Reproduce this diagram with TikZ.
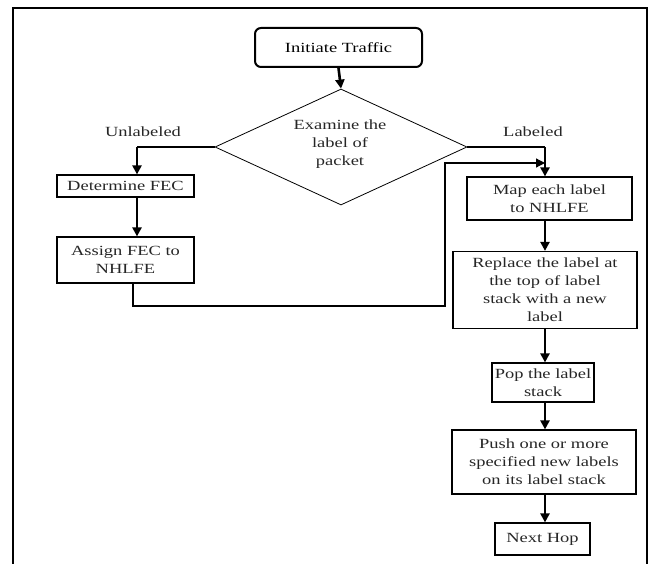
\documentclass[tikz,border=0pt]{standalone}
\usepackage{fontspec}
\setmainfont{Liberation Serif}[FakeStretch=1.32]
\usetikzlibrary{arrows.meta,shapes.geometric}
\begin{document}
\begin{tikzpicture}[x=1pt,y=-1pt,
  every node/.style={font=\fontsize{14}{18}\selectfont, align=center, inner sep=0pt},
  box/.style={draw, line width=1.2pt, text=black!85},
  startbox/.style={draw, line width=2pt, rounded corners=6pt},
  arr/.style={line width=2.6pt, -{Triangle[width=9pt,length=9pt]}},
  thin/.style={line width=1.2pt},
  thinarr/.style={line width=1.2pt, -{Triangle[width=9pt,length=9pt]}},
  lbl/.style={text=black!85}]
\useasboundingbox (0,0) rectangle (654,564);
% frame
\draw[line width=2.5pt] (13,570) -- (13,8) -- (647,8) -- (647,570);

\node[startbox, minimum width=167pt, minimum height=39pt] (init) at (338.5,47.5) {Initiate Traffic};
\node[diamond, draw, line width=0.8pt, aspect=2.17, minimum width=252pt, minimum height=116pt] (dia) at (341,147) {};
\node[lbl] (diat) at (340,144) {Examine the\\label of\\packet};

\node[lbl] (unl) at (143,132) {Unlabeled};
\node[lbl] (lab) at (533,132) {Labeled};

\node[box, minimum width=137pt, minimum height=22pt] (det) at (125.5,186) {Determine FEC};
\node[box, minimum width=137pt, minimum height=46pt] (asg) at (125.5,260) {Assign FEC to\\NHLFE};

\node[box, minimum width=165pt, minimum height=43pt] (map) at (549.5,198.5) {Map each label\\to NHLFE};
\node[box, minimum width=184pt, minimum height=77pt] (rep) at (545,290) {Replace the label at\\the top of label\\stack with a new\\label};
\node[box, minimum width=102pt, minimum height=39pt] (pop) at (543,382.5) {Pop the label\\stack};
\node[box, minimum width=184pt, minimum height=64pt] (push) at (544,462) {Push one or more\\specified new labels\\on its label stack};
\node[box, minimum width=95pt, minimum height=32pt] (next) at (542.5,539) {Next Hop};

\coordinate (rx) at (545,0);
\coordinate (lx) at (137,0);
\coordinate (jn) at (545,163);
\coordinate (c1) at (133,306);
\coordinate (c2) at (445,306);
\coordinate (c3) at (445,163);

\draw[arr] (init.south) -- (dia.north);
\draw[thin] (dia.west) -- (dia.west -| lx);
\draw[arr] (dia.west -| lx) -- (det.north -| lx);
\draw[arr] (det.south -| lx) -- (asg.north -| lx);

\draw[thin] (dia.east) -- (dia.east -| rx);
\draw[arr] (dia.east -| rx) -- (map.north -| rx);
\draw[thinarr] (asg.south -| c1) -- (c1) -- (c2) -- (c3) -- (jn);

\draw[arr] (map.south -| rx) -- (rep.north -| rx);
\draw[arr] (rep.south -| rx) -- (pop.north -| rx);
\draw[arr] (pop.south -| rx) -- (push.north -| rx);
\draw[arr] (push.south -| rx) -- (next.north -| rx);
\end{tikzpicture}
\end{document}
